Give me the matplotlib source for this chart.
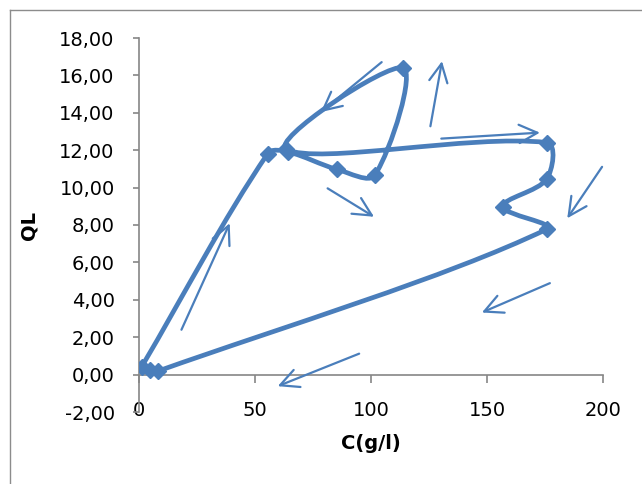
import math

import matplotlib
matplotlib.use("Agg")
import matplotlib.pyplot as plt
from matplotlib.lines import Line2D
from matplotlib.path import Path
from matplotlib.patches import PathPatch
from matplotlib.ticker import FuncFormatter

# Données (C en g/l, QL)
conc = [1.1, 55.5, 64.1, 85.5, 101.7, 113.7, 63.5, 175.7, 175.7, 156.7, 175.7, 8.0, 4.7]
ql = [0.41, 11.82, 11.91, 10.97, 10.67, 16.41, 12.05, 12.41, 10.45, 8.98, 7.77, 0.18, 0.23]

x_ticks = [0, 50, 100, 150, 200]
y_ticks = [-2, 0, 2, 4, 6, 8, 10, 12, 14, 16, 18]

# Flèches dessinées à la main sur le graphique (départ, arrivée)
arrow_from = [(104.6, 16.71), (125.6, 13.28), (81.3, 9.96), (130.3, 12.62),
              (199.6, 11.11), (177.1, 4.89), (94.9, 1.12), (18.3, 2.40)]
arrow_to = [(78.4, 14.04), (130.6, 16.76), (101.3, 8.44), (172.8, 12.94),
            (184.6, 8.36), (147.8, 3.32), (59.8, -0.62), (39.1, 8.09)]

BLUE = "#4a7ebb"
GREY = "#868686"

plt.rcParams["font.family"] = "DejaVu Sans"


def smooth_path(xs, ys, sx, sy, t=1 / 3):
    """Courbe lissée façon Excel, calculée dans l'espace écran.

    Les points de contrôle suivent la tangente (p[i+1] - p[i-1]),
    répartie selon la longueur des segments voisins.
    """
    pts = [(x * sx, y * sy) for x, y in zip(xs, ys)]
    n = len(pts)
    before, after = [], []
    for i in range(n):
        p0 = pts[max(i - 1, 0)]
        p1 = pts[i]
        p2 = pts[min(i + 1, n - 1)]
        tx, ty = p2[0] - p0[0], p2[1] - p0[1]
        d01 = math.hypot(p1[0] - p0[0], p1[1] - p0[1])
        d12 = math.hypot(p2[0] - p1[0], p2[1] - p1[1])
        tot = (d01 + d12) or 1.0
        before.append((p1[0] - tx * d01 / tot * t, p1[1] - ty * d01 / tot * t))
        after.append((p1[0] + tx * d12 / tot * t, p1[1] + ty * d12 / tot * t))
    verts = [pts[0]]
    codes = [Path.MOVETO]
    for i in range(n - 1):
        verts += [after[i], before[i + 1], pts[i + 1]]
        codes += [Path.CURVE4] * 3
    verts = [(vx / sx, vy / sy) for vx, vy in verts]
    return Path(verts, codes)


fig = plt.figure(figsize=(6.42, 4.84), dpi=100)
ax = fig.add_axes([139 / 642, 72 / 484, 464 / 642, 374 / 484])

# cadre extérieur du graphique (bords gauche et haut visibles)
frame_x = 10.5 / 642
frame_y = 1 - 9.5 / 484
fig.add_artist(Line2D([frame_x, frame_x], [0, frame_y], transform=fig.transFigure,
                      color="#8c8c8c", linewidth=1.0))
fig.add_artist(Line2D([frame_x, 1], [frame_y, frame_y], transform=fig.transFigure,
                      color="#8c8c8c", linewidth=1.0))

ax.set_xlim(0, 200)
ax.set_ylim(-2, 18)

ax.add_patch(PathPatch(smooth_path(conc, ql, 464 / 200, 374 / 20),
                       facecolor="none", edgecolor=BLUE, linewidth=3.4,
                       capstyle="round", joinstyle="round", zorder=3))
ax.plot(conc, ql, linestyle="none", marker="D", markersize=8.5,
        color=BLUE, zorder=4)

for start, end in zip(arrow_from, arrow_to):
    ax.annotate("", xy=end, xytext=start,
                arrowprops=dict(arrowstyle="->,head_length=1.1,head_width=0.55",
                                color=BLUE, lw=1.6, shrinkA=0, shrinkB=0,
                                mutation_scale=12), zorder=2)

for side in ["top", "right", "bottom"]:
    ax.spines[side].set_visible(False)
ax.spines["left"].set_color(GREY)
ax.spines["left"].set_linewidth(1.2)

ax.set_yticks(y_ticks)
ax.yaxis.set_major_formatter(FuncFormatter(lambda v, _: f"{v:.2f}".replace(".", ",")))
ax.tick_params(axis="y", direction="out", length=4.5, width=1.2, color=GREY,
               pad=13, labelsize=14)

ax.set_xticks(x_ticks)
ax.tick_params(axis="x", length=0, pad=-8, labelsize=14)

# axe horizontal à y = 0 avec ses graduations
sec = ax.secondary_xaxis(0.1)
sec.set_xticks(x_ticks)
sec.tick_params(axis="x", direction="out", length=6, width=1.2, color=GREY,
                labelbottom=False)
sec.spines["bottom"].set_color(GREY)
sec.spines["bottom"].set_linewidth(1.2)

ax.set_xlabel("C(g/l)", fontsize=14, fontweight="bold", labelpad=10)
ax.set_ylabel("QL", fontsize=14, fontweight="bold", labelpad=15)

fig.savefig("out.png", dpi=100)
